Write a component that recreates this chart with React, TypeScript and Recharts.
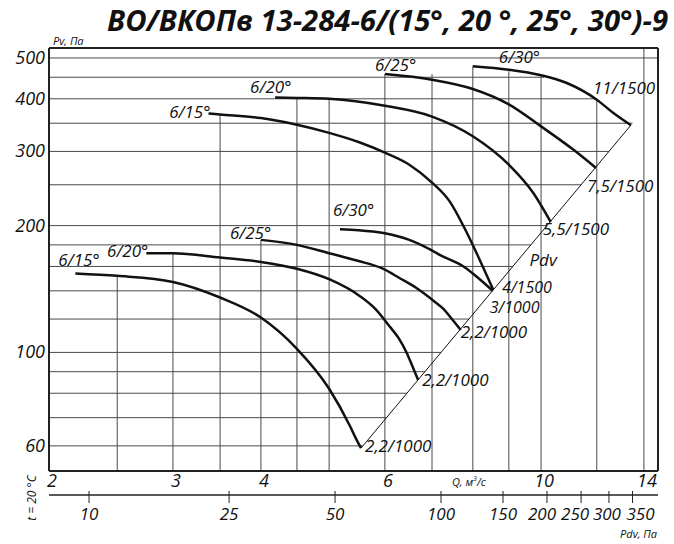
import React from 'react';
import { LineChart, Line, XAxis, YAxis, ReferenceLine, ReferenceDot } from 'recharts';

const FONT = '"Open Sans", "DejaVu Sans", sans-serif';

// область графика (логарифмические оси)
const Q_MIN = 2;
const Q_MAX = 14.66;
const PV_MIN = 52.3;
const PV_MAX = 528;
// Pdv = K * Q^2 (динамическое давление)
const PDV_K = 1.924;

const qTicks = [2, 3, 4, 6, 8, 10, 14];
const pvTicks = [60, 100, 200, 300, 400, 500];
const pdvTicks = [10, 25, 50, 100, 150, 200, 250, 300, 350];

// сетка
const hGridPv = [500, 450, 400, 350, 300, 250, 200, 180, 160, 140, 120, 100, 90, 80, 70, 60];
const hGridStop: Record<number, number> = { 500: Q_MAX, 450: 10.1, 400: 11.95 };
const vGridQ = [2.5, 3, 3.5, 4, 4.5, 5, 6, 7, 8, 9, 10, 12, 14];
const vGridTop = [152, 173, 368, 185, 402, 402, 458, 458, 478, 465, 452, 395, PV_MAX];

// характеристики [Q, Pv]
const hi15 = [[3.37, 369], [3.5, 367], [4, 360], [4.5, 347], [5, 332], [5.53, 315], [6, 298], [6.5, 279], [7, 253], [7.42, 228], [7.8, 196], [8.14, 169], [8.55, 141]];
const hi20 = [[4.19, 403], [4.5, 402], [5, 400], [6, 385], [7, 363], [8, 326], [9, 279], [9.75, 239], [10.32, 204]];
const hi25 = [[6, 458], [7, 444], [8, 422], [9, 388], [10, 344], [11.11, 303], [11.97, 274]];
const hi30 = [[8, 478], [9, 469], [10, 455], [10.88, 436], [12, 398], [12.67, 370], [13.42, 346]];
const lo15 = [[2.18, 154], [2.5, 152], [3, 147], [3.5, 135], [4, 121], [4.5, 102], [5, 82], [5.35, 67], [5.47, 62], [5.55, 59.3]];
const lo20 = [[2.75, 172], [3, 172], [3.5, 168], [4, 164], [4.5, 158], [5.01, 149], [5.53, 136], [5.81, 127], [6.1, 115], [6.28, 108], [6.44, 100], [6.57, 92.5], [6.69, 86]];
const lo25 = [[4, 185], [4.5, 180], [5, 172], [5.49, 165], [5.96, 158], [6.3, 150], [6.66, 142], [7.02, 133], [7.26, 127], [7.47, 120], [7.69, 113]];
const lo30 = [[5.18, 196], [5.5, 195], [5.97, 192], [6.5, 185], [6.8, 179], [7.2, 170], [7.76, 160], [8.19, 149], [8.54, 140]];

const curveData = [hi15, hi20, hi25, hi30, lo15, lo20, lo25, lo30];
const curveNames = ['6/15°', '6/20°', '6/25°', '6/30°', '6/15°', '6/20°', '6/25°', '6/30°'];
const curvePowers = ['4/1500', '5,5/1500', '7,5/1500', '11/1500', '2,2/1000', '2,2/1000', '2,2/1000', '3/1000'];

// линия Pdv (Pv = Pdv)
const pdvLinePdv = [59.3, 346.5];

// смещения подписей: [anchor, dx, dy]
const nameOffset: [string, number, number][] = [
  ['end', 2, 4], ['start', -25, -4], ['start', -10, -3], ['start', 26, -3],
  ['start', -17, -7], ['end', 2, 4], ['start', -31, -1], ['start', -7, -13],
];
const powerOffset: [string, number, number][] = [
  ['start', 9, 3], ['start', -8, 13], ['start', -9, 24], ['start', -38, -31],
  ['start', 4, 4], ['start', 4, 6], ['start', 0, 8], ['start', -3, 22],
];
const pdvLabelShift: Record<number, number> = { 200: -5, 250: -6, 300: -2, 350: 8 };

const txt = { fontFamily: FONT, fontStyle: 'italic', fill: '#111' } as const;

const QTick = ({ x, y, payload }: any) => {
  if (payload.value === 8) {
    return (
      <text x={x - 4} y={y + 15} textAnchor="middle" fontSize={11} {...txt}>
        Q, м<tspan fontSize={7} dy={-5}>3</tspan><tspan dy={5}>/с</tspan>
      </text>
    );
  }
  return (
    <text x={x + 3} y={y + 16} textAnchor="middle" fontSize={18} {...txt}>
      {payload.value}
    </text>
  );
};

const PdvTick = ({ x, y, payload }: any) => (
  <g>
    <line x1={x} x2={x} y1={y - 4} y2={y + 8} stroke="#222" strokeWidth={1} />
    <text x={x + (pdvLabelShift[payload.value] || 0)} y={y + 25} textAnchor="middle" fontSize={17} {...txt}>
      {payload.value}
    </text>
  </g>
);

const PvTick = ({ x, y, payload }: any) => (
  <text x={x} y={y + 6} textAnchor="end" fontSize={18} {...txt}>
    {payload.value}
  </text>
);

const label = (text: string, anchor: string, dx: number, dy: number, size = 17) => (p: any) => (
  <text x={p.cx + dx} y={p.cy + dy} textAnchor={anchor as any} fontSize={size} {...txt}>
    {text}
  </text>
);

export default function App() {
  const curves = curveData.map((arr) => arr.map(([q, pv]) => ({ q, pv })));
  const diag = pdvLinePdv.map((v) => ({ pdv: v, pv: v }));
  const gridStroke = '#4a4a4a';

  return (
    <div style={{ position: 'absolute', left: 0, top: 0, width: 674, height: 544, background: '#fff' }}>
      <LineChart width={674} height={544} margin={{ top: 48, right: 16, left: 0, bottom: 1 }}>
        <XAxis
          dataKey="q"
          type="number"
          scale="log"
          domain={[Q_MIN, Q_MAX]}
          allowDataOverflow
          ticks={qTicks}
          interval={0}
          height={24}
          axisLine={false}
          tickLine={false}
          tickSize={0}
          tickMargin={0}
          tick={<QTick />}
        />
        <XAxis
          xAxisId="pdv"
          dataKey="pdv"
          type="number"
          scale="log"
          domain={[PDV_K * Q_MIN * Q_MIN, PDV_K * Q_MAX * Q_MAX]}
          allowDataOverflow
          ticks={pdvTicks}
          interval={0}
          height={48}
          axisLine={{ stroke: '#222', strokeWidth: 1.5 }}
          tickLine={false}
          tickSize={0}
          tickMargin={0}
          tick={<PdvTick />}
        />
        <YAxis
          type="number"
          scale="log"
          domain={[PV_MIN, PV_MAX]}
          allowDataOverflow
          ticks={pvTicks}
          interval={0}
          width={49}
          axisLine={false}
          tickLine={false}
          tickSize={0}
          tickMargin={4}
          tick={<PvTick />}
        />

        {hGridPv.map((pv) => (
          <ReferenceLine
            key={'h' + pv}
            segment={[{ x: Q_MIN, y: pv }, { x: hGridStop[pv] ?? Math.sqrt(pv / PDV_K), y: pv }]}
            stroke={gridStroke}
            strokeWidth={1}
          />
        ))}
        {vGridQ.map((q, i) => (
          <ReferenceLine
            key={'v' + q}
            segment={[{ x: q, y: PV_MIN }, { x: q, y: vGridTop[i] }]}
            stroke={gridStroke}
            strokeWidth={1}
          />
        ))}

        <ReferenceLine x={Q_MIN} stroke="#222" strokeWidth={2} />
        <ReferenceLine x={Q_MAX} stroke="#222" strokeWidth={2} />
        <ReferenceLine y={PV_MIN} stroke="#222" strokeWidth={2} />
        <ReferenceLine y={PV_MAX} stroke="#222" strokeWidth={2} />

        <Line
          xAxisId="pdv"
          data={diag}
          dataKey="pv"
          type="linear"
          dot={false}
          stroke="#111"
          strokeWidth={1}
          isAnimationActive={false}
        />

        {curves.map((pts, i) => (
          <Line
            key={'c' + i}
            data={pts}
            dataKey="pv"
            type="monotone"
            dot={false}
            stroke="#111"
            strokeWidth={2.5}
            isAnimationActive={false}
          />
        ))}

        {curves.map((pts, i) => (
          <ReferenceDot
            key={'n' + i}
            x={pts[0].q}
            y={pts[0].pv}
            r={0}
            shape={label(curveNames[i], ...nameOffset[i])}
          />
        ))}
        {curves.map((pts, i) => (
          <ReferenceDot
            key={'p' + i}
            x={pts[pts.length - 1].q}
            y={pts[pts.length - 1].pv}
            r={0}
            shape={label(curvePowers[i], ...powerOffset[i], i === 0 || i === 7 ? 16 : 17)}
          />
        ))}
        <ReferenceDot xAxisId="pdv" x={166} y={166} r={0} shape={label('Pdv', 'start', 11, 6)} />
      </LineChart>

      <svg width={674} height={544} style={{ position: 'absolute', left: 0, top: 0, pointerEvents: 'none' }}>
        <text
          x={107}
          y={31}
          fontSize={28}
          fontWeight="bold"
          textLength={561}
          lengthAdjust="spacingAndGlyphs"
          {...txt}
        >
          ВО/ВКОПв 13-284-6/(15°, 20 °, 25°, 30°)-9
        </text>
        <text x={53} y={45} fontSize={11} {...txt}>Pv, Па</text>
        <text x={657} y={538} fontSize={11} textAnchor="end" {...txt}>Pdv, Па</text>
        <text x={36} y={498} fontSize={12} textAnchor="middle" transform="rotate(-90 36 498)" {...txt}>
          t = 20 °C
        </text>
      </svg>
    </div>
  );
}
